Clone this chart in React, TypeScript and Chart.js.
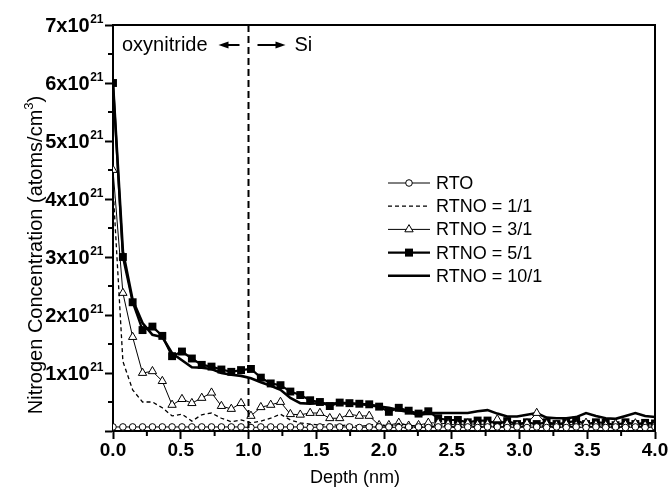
import React, { useEffect, useRef } from "react";
import { Chart, registerables } from "chart.js";

Chart.register(...registerables);

// Depth (nm) sampling points
const depthNm = [
  0, 0.073, 0.145, 0.218, 0.291, 0.364, 0.436, 0.509, 0.582, 0.655, 0.727, 0.8, 0.873, 0.945,
  1.018, 1.091, 1.164, 1.236, 1.309, 1.382, 1.455, 1.527, 1.6, 1.673, 1.745, 1.818, 1.891, 1.964,
  2.036, 2.109, 2.182, 2.255, 2.327, 2.4, 2.473, 2.545, 2.618, 2.691, 2.764, 2.836, 2.909, 2.982,
  3.055, 3.127, 3.2, 3.273, 3.345, 3.418, 3.491, 3.564, 3.636, 3.709, 3.782, 3.855, 3.927, 4.0,
];

// Nitrogen concentration, in units of 1e21 atoms/cm^3
const rto = [
  0.07, 0.07, 0.07, 0.07, 0.07, 0.07, 0.07, 0.07, 0.07, 0.07, 0.07, 0.07, 0.07, 0.07,
  0.06, 0.07, 0.07, 0.07, 0.07, 0.07, 0.06, 0.07, 0.07, 0.07, 0.07, 0.06, 0.07, 0.07,
  0.07, 0.06, 0.07, 0.07, 0.06, 0.07, 0.07, 0.06, 0.07, 0.06, 0.07, 0.07, 0.06, 0.07,
  0.06, 0.07, 0.06, 0.07, 0.06, 0.07, 0.06, 0.07, 0.06, 0.07, 0.06, 0.07, 0.06, 0.07,
];
const rtno11 = [
  4.2, 1.2, 0.71, 0.5, 0.5, 0.4, 0.26, 0.29, 0.17, 0.28, 0.31, 0.22, 0.16, 0.19,
  0.14, 0.17, 0.22, 0.29, 0.19, 0.14, 0.12, 0.1, 0.12, 0.09, 0.11, 0.08, 0.1, 0.12,
  0.07, 0.13, 0.1, 0.08, 0.06, 0.1, 0.08, 0.07, 0.1, 0.06, 0.09, 0.07, 0.08, 0.1,
  0.06, 0.08, 0.09, 0.07, 0.1, 0.06, 0.08, 0.07, 0.09, 0.06, 0.08, 0.07, 0.09, 0.07,
];
const rtno31 = [
  4.5, 2.38, 1.62, 1.0, 1.03, 0.86, 0.45, 0.55, 0.48, 0.57, 0.66, 0.43, 0.38, 0.48,
  0.26, 0.41, 0.45, 0.5, 0.29, 0.28, 0.31, 0.31, 0.22, 0.22, 0.29, 0.26, 0.26, 0.1,
  0.1, 0.14, 0.09, 0.1, 0.14, 0.14, 0.12, 0.1, 0.13, 0.11, 0.12, 0.2, 0.12, 0.1,
  0.13, 0.31, 0.12, 0.1, 0.12, 0.1, 0.14, 0.11, 0.1, 0.12, 0.11, 0.13, 0.1, 0.11,
];
const rtno51 = [
  6.0, 3.0, 2.22, 1.74, 1.8, 1.64, 1.29, 1.37, 1.25, 1.14, 1.11, 1.06, 1.02, 1.05,
  1.07, 0.92, 0.82, 0.79, 0.68, 0.62, 0.53, 0.5, 0.43, 0.49, 0.48, 0.47, 0.46, 0.42,
  0.33, 0.4, 0.35, 0.3, 0.34, 0.22, 0.19, 0.19, 0.15, 0.18, 0.18, 0.12, 0.17, 0.12,
  0.15, 0.12, 0.15, 0.12, 0.14, 0.18, 0.12, 0.15, 0.14, 0.1, 0.15, 0.12, 0.14, 0.13,
];
const rtno101 = [
  6.0, 3.1, 2.26, 1.86, 1.66, 1.62, 1.34, 1.22, 1.1, 1.09, 1.07, 1.0, 0.97, 0.95,
  0.91, 0.84, 0.78, 0.71, 0.57, 0.48, 0.47, 0.48, 0.47, 0.48, 0.47, 0.46, 0.45, 0.42,
  0.4, 0.36, 0.33, 0.27, 0.31, 0.31, 0.31, 0.31, 0.31, 0.34, 0.36, 0.3, 0.25, 0.25,
  0.28, 0.31, 0.23, 0.22, 0.22, 0.24, 0.31, 0.26, 0.22, 0.21, 0.26, 0.31, 0.26, 0.24,
];

const seriesLabels = ["RTO", "RTNO = 1/1", "RTNO = 3/1", "RTNO = 5/1", "RTNO = 10/1"];
const xTickStep = 0.5;
const yTickStep = 1;
const yTickMantissaSuffix = "x10";
const yTickExponent = "21";
const xTitle = "Depth (nm)";
const yTitleMain = "Nitrogen Concentration (atoms/cm";
const yTitleSup = "3";
const yTitleEnd = ")";
const leftRegionLabel = "oxynitride";
const rightRegionLabel = "Si";
const interfaceDepth = 1.0;

const FONT = "'Liberation Sans', Arial, Helvetica, sans-serif";

export default function App() {
  const ref = useRef<HTMLCanvasElement>(null);

  useEffect(() => {
    const canvas = ref.current;
    if (!canvas) return;
    const pts = (arr: number[]) => depthNm.map((x, i) => ({ x, y: arr[i] }));

    const drawMarker = (ctx: CanvasRenderingContext2D, kind: string, x: number, y: number) => {
      ctx.save();
      ctx.lineWidth = 1;
      ctx.strokeStyle = "#000";
      if (kind === "circle") {
        ctx.fillStyle = "#fff";
        ctx.beginPath();
        ctx.arc(x, y, 3.3, 0, Math.PI * 2);
        ctx.fill();
        ctx.stroke();
      } else if (kind === "triangle") {
        const r = 4.8;
        ctx.fillStyle = "#fff";
        ctx.beginPath();
        ctx.moveTo(x, y - r);
        ctx.lineTo(x + r * 0.866, y + r * 0.5);
        ctx.lineTo(x - r * 0.866, y + r * 0.5);
        ctx.closePath();
        ctx.fill();
        ctx.stroke();
      } else if (kind === "rect") {
        ctx.fillStyle = "#000";
        ctx.fillRect(x - 4, y - 4, 8, 8);
      }
      ctx.restore();
    };

    const extras = {
      id: "extras",
      afterDraw(chart: any) {
        const { ctx, chartArea } = chart;
        const xs = chart.scales.x;
        const ys = chart.scales.y;
        const { left, right, top, bottom } = chartArea;
        ctx.save();
        // frame top & right
        ctx.strokeStyle = "#000";
        ctx.lineWidth = 2;
        ctx.beginPath();
        ctx.moveTo(left, top);
        ctx.lineTo(right, top);
        ctx.lineTo(right, bottom);
        ctx.stroke();
        // minor ticks
        for (let v = xTickStep / 2; v < 4; v += xTickStep) {
          const px = xs.getPixelForValue(v);
          ctx.beginPath();
          ctx.moveTo(px, bottom);
          ctx.lineTo(px, bottom + 5);
          ctx.stroke();
        }
        for (let v = yTickStep / 2; v < 7; v += yTickStep) {
          const py = ys.getPixelForValue(v);
          ctx.beginPath();
          ctx.moveTo(left, py);
          ctx.lineTo(left - 5, py);
          ctx.stroke();
        }
        // y tick labels with superscript exponent
        ctx.fillStyle = "#000";
        ctx.textAlign = "left";
        ctx.textBaseline = "alphabetic";
        ys.ticks.forEach((t: any) => {
          if (t.value === 0) return;
          const py = ys.getPixelForValue(t.value);
          const base = `${t.value}${yTickMantissaSuffix}`;
          ctx.font = `bold 20px ${FONT}`;
          const bw = ctx.measureText(base).width;
          ctx.font = `bold 12px ${FONT}`;
          const sw = ctx.measureText(yTickExponent).width;
          const xr = left - 10;
          const x0 = xr - sw - bw;
          ctx.font = `bold 20px ${FONT}`;
          ctx.fillText(base, x0, py + 7);
          ctx.font = `bold 12px ${FONT}`;
          ctx.fillText(yTickExponent, x0 + bw + 0.5, py - 2.5);
        });
        // y title (rotated) with superscript 3
        ctx.save();
        ctx.translate(35, 255);
        ctx.rotate(-Math.PI / 2);
        ctx.font = `20px ${FONT}`;
        const mw = ctx.measureText(yTitleMain).width;
        ctx.font = `13px ${FONT}`;
        const s3 = ctx.measureText(yTitleSup).width;
        ctx.font = `20px ${FONT}`;
        const ew = ctx.measureText(yTitleEnd).width;
        const tw = mw + s3 + ew;
        let cx = -tw / 2;
        ctx.textBaseline = "alphabetic";
        ctx.fillText(yTitleMain, cx, 7);
        cx += mw;
        ctx.font = `13px ${FONT}`;
        ctx.fillText(yTitleSup, cx, -2);
        cx += s3;
        ctx.font = `20px ${FONT}`;
        ctx.fillText(yTitleEnd, cx, 7);
        ctx.restore();
        // x title
        ctx.font = `18px ${FONT}`;
        ctx.textAlign = "center";
        ctx.textBaseline = "middle";
        ctx.fillText(xTitle, 355, 478);
        // interface dashed line
        const ix = xs.getPixelForValue(interfaceDepth);
        ctx.setLineDash([7, 4]);
        ctx.lineWidth = 2;
        ctx.beginPath();
        ctx.moveTo(ix, top);
        ctx.lineTo(ix, bottom);
        ctx.stroke();
        ctx.setLineDash([]);
        // annotation
        const ay = top + 20;
        ctx.font = `20px ${FONT}`;
        ctx.textBaseline = "middle";
        ctx.textAlign = "left";
        ctx.fillText(leftRegionLabel, left + 9, ay);
        ctx.fillText(rightRegionLabel, ix + 46, ay);
        const arrow = (x0: number, x1: number) => {
          const dir = Math.sign(x1 - x0);
          ctx.lineWidth = 2;
          ctx.beginPath();
          ctx.moveTo(x0, ay);
          ctx.lineTo(x1 - dir * 7, ay);
          ctx.stroke();
          ctx.beginPath();
          ctx.moveTo(x1, ay);
          ctx.lineTo(x1 - dir * 10, ay - 3.5);
          ctx.lineTo(x1 - dir * 10, ay + 3.5);
          ctx.closePath();
          ctx.fill();
        };
        arrow(ix - 9, ix - 30);
        arrow(ix + 9, ix + 37);
        // legend
        const lx0 = left + 275;
        const lx1 = lx0 + 42;
        const ly0 = top + 158;
        const dy = 23.2;
        chart.data.datasets.forEach((ds: any, i: number) => {
          const y = ly0 + i * dy;
          ctx.strokeStyle = "#000";
          ctx.lineWidth = ds.borderWidth;
          ctx.setLineDash(ds.borderDash || []);
          ctx.beginPath();
          ctx.moveTo(lx0, y);
          ctx.lineTo(lx1, y);
          ctx.stroke();
          ctx.setLineDash([]);
          if (ds.pointRadius > 0) drawMarker(ctx, ds.pointStyle, (lx0 + lx1) / 2, y);
          ctx.fillStyle = "#000";
          ctx.font = `18px ${FONT}`;
          ctx.textAlign = "left";
          ctx.textBaseline = "middle";
          ctx.fillText(ds.label, lx1 + 6, y + 1);
        });
        ctx.restore();
      },
    };

    const chart = new Chart(canvas, {
      type: "line",
      data: {
        datasets: [
          {
            label: seriesLabels[0],
            data: pts(rto),
            borderColor: "#000",
            borderWidth: 1,
            pointStyle: "circle",
            pointRadius: 3.3,
            pointBackgroundColor: "#fff",
            pointBorderColor: "#000",
            pointBorderWidth: 1,
          },
          {
            label: seriesLabels[1],
            data: pts(rtno11),
            borderColor: "#000",
            borderWidth: 1.3,
            borderDash: [4, 3],
            pointRadius: 0,
          },
          {
            label: seriesLabels[2],
            data: pts(rtno31),
            borderColor: "#000",
            borderWidth: 1,
            pointStyle: "triangle",
            pointRadius: 4.8,
            pointBackgroundColor: "#fff",
            pointBorderColor: "#000",
            pointBorderWidth: 1,
          },
          {
            label: seriesLabels[3],
            data: pts(rtno51),
            borderColor: "#000",
            borderWidth: 2.2,
            pointStyle: "rect",
            pointRadius: 5.6,
            pointBackgroundColor: "#000",
            pointBorderColor: "#000",
            pointBorderWidth: 0,
          },
          {
            label: seriesLabels[4],
            data: pts(rtno101),
            borderColor: "#000",
            borderWidth: 2.6,
            pointRadius: 0,
          },
        ],
      } as any,
      options: {
        animation: false,
        responsive: false,
        devicePixelRatio: 1,
        layout: { padding: { left: 0, top: 25, right: 14, bottom: 0 } },
        plugins: { legend: { display: false }, tooltip: { enabled: false } },
        elements: { line: { tension: 0 } },
        scales: {
          x: {
            type: "linear",
            min: 0,
            max: 4,
            ticks: {
              stepSize: xTickStep,
              autoSkip: false,
              maxRotation: 0,
              color: "#000",
              padding: 0,
              font: { family: FONT, size: 19, weight: "bold" },
              callback: (v: any) => Number(v).toFixed(1),
            },
            grid: { display: true, drawOnChartArea: false, drawTicks: true, tickLength: 8, tickWidth: 2, tickColor: "#000" },
            border: { display: true, color: "#000", width: 2 },
            title: { display: false },
            afterFit: (s: any) => {
              s.height = 60;
            },
          },
          y: {
            type: "linear",
            min: 0,
            max: 7,
            ticks: {
              stepSize: yTickStep,
              color: "#000",
              callback: () => "",
            },
            grid: { display: true, drawOnChartArea: false, drawTicks: true, tickLength: 8, tickWidth: 2, tickColor: "#000" },
            border: { display: true, color: "#000", width: 2 },
            title: { display: false },
            afterFit: (s: any) => {
              s.width = 113;
            },
          },
        },
      } as any,
      plugins: [extras],
    });
    return () => chart.destroy();
  }, []);

  return (
    <div style={{ position: "fixed", left: 0, top: 0, width: 669, height: 491, background: "#fff" }}>
      <canvas ref={ref} width={669} height={491} style={{ display: "block" }} />
    </div>
  );
}
